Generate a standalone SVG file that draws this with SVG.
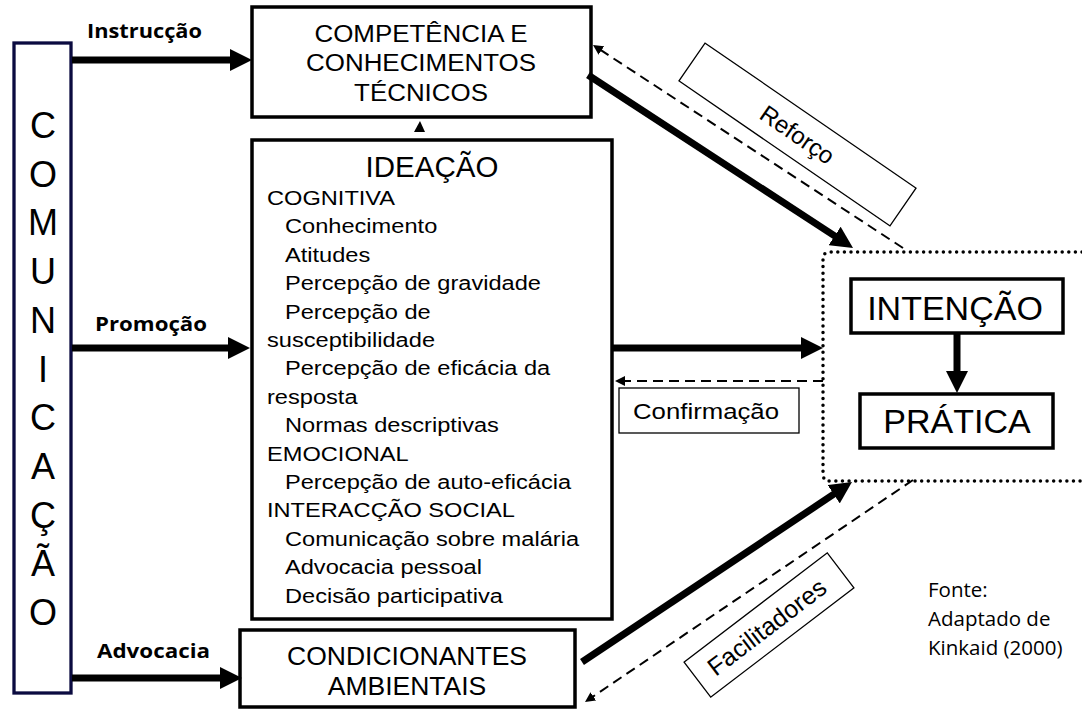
<svg xmlns="http://www.w3.org/2000/svg" width="1082" height="711" viewBox="0 0 1082 711">
  <style>
    .box { fill: #fff; stroke: #000; stroke-width: 3.5; }
    .lbl { fill: #fff; stroke: #000; stroke-width: 1.3; }
    .t { font-family: "Liberation Sans", Arial, sans-serif; fill: #000; }
    .b { font-family: "Open Sans", "Liberation Sans", sans-serif; font-weight: bold; font-size: 20px; fill: #000; }
    .f { font-family: "Open Sans", "Liberation Sans", sans-serif; font-size: 20.5px; fill: #000; }
    .thick { stroke: #000; stroke-width: 7; fill: none; }
    .dash { stroke: #000; stroke-width: 2; fill: none; stroke-dasharray: 10 6; }
    .dots { stroke: #000; stroke-width: 3.5; fill: none; stroke-dasharray: 0 6.6; stroke-linecap: round; }
  </style>
  <defs>
    <marker id="ah" markerUnits="userSpaceOnUse" viewBox="0 0 22 22" refX="10" refY="11" markerWidth="22" markerHeight="22" orient="auto">
      <path d="M0,0 L22,11 L0,22 z" fill="#000"/>
    </marker>
    <marker id="ahs" markerUnits="userSpaceOnUse" viewBox="0 0 10 10" refX="4" refY="5" markerWidth="10" markerHeight="10" orient="auto">
      <path d="M0,0 L10,5 L0,10 z" fill="#000"/>
    </marker>
  </defs>
  <rect width="1082" height="711" fill="#fff"/>

  <g id="comunicacao">
    <rect x="14" y="43" width="57" height="650" fill="#fff" stroke="#0b0b40" stroke-width="3.3"/>
    <g class="t" font-size="36" text-anchor="middle">
      <text x="43" y="138">C</text>
      <text x="43" y="186.7">O</text>
      <text x="43" y="235.4">M</text>
      <text x="43" y="284.1">U</text>
      <text x="43" y="332.8">N</text>
      <text x="43" y="381.5">I</text>
      <text x="43" y="430.2">C</text>
      <text x="43" y="478.9">A</text>
      <text x="43" y="527.6">Ç</text>
      <text x="43" y="576.3">Ã</text>
      <text x="43" y="625">O</text>
    </g>
  </g>

  <g id="competencia">
    <rect class="box" x="252" y="7" width="339" height="110"/>
    <g class="t" font-size="24" text-anchor="middle">
      <text transform="translate(421,42) scale(1.08,1)">COMPETÊNCIA E</text>
      <text transform="translate(421,71) scale(1.08,1)">CONHECIMENTOS</text>
      <text transform="translate(421,101) scale(1.08,1)">TÉCNICOS</text>
    </g>
  </g>

  <g id="ideacao">
    <rect class="box" x="252" y="140" width="360" height="479"/>
    <text class="t" x="432" y="177" font-size="29.5" text-anchor="middle">IDEAÇÃO</text>
    <g class="t" font-size="21" transform="matrix(1.125 0 0 1 -33.4 0)">
      <text x="267" y="205">COGNITIVA</text>
      <text x="283" y="233.4">Conhecimento</text>
      <text x="283" y="261.8">Atitudes</text>
      <text x="283" y="290.2">Percepção de gravidade</text>
      <text x="283" y="318.6">Percepção de</text>
      <text x="267" y="347">susceptibilidade</text>
      <text x="283" y="375.4">Percepção de eficácia da</text>
      <text x="267" y="403.8">resposta</text>
      <text x="283" y="432.2">Normas descriptivas</text>
      <text x="267" y="460.6">EMOCIONAL</text>
      <text x="283" y="489">Percepção de auto-eficácia</text>
      <text x="267" y="517.4">INTERACÇÃO SOCIAL</text>
      <text x="283" y="545.8">Comunicação sobre malária</text>
      <text x="283" y="574.2">Advocacia pessoal</text>
      <text x="283" y="602.6">Decisão participativa</text>
    </g>
  </g>

  <g id="condicionantes">
    <rect class="box" x="240" y="630" width="335" height="77"/>
    <g class="t" font-size="26.5" text-anchor="middle">
      <text x="407" y="665">CONDICIONANTES</text>
      <text x="407" y="695">AMBIENTAIS</text>
    </g>
  </g>

  <g id="comportamento">
    <path class="dots" d="M1082,252 H830 Q823,252 823,259 V474 Q823,481 830,481 H1082"/>
  </g>

  <g id="intencao">
    <rect class="box" x="851" y="279" width="212" height="54" stroke-width="4"/>
    <text class="t" x="955" y="320" font-size="34" text-anchor="middle">INTENÇÃO</text>
  </g>

  <g id="pratica">
    <rect class="box" x="860" y="394" width="193" height="54" stroke-width="4"/>
    <text class="t" x="957" y="433" font-size="34" text-anchor="middle">PRÁTICA</text>
  </g>

  <g id="connectors">
    <line class="thick" x1="72" y1="60" x2="240" y2="60" marker-end="url(#ah)"/>
    <line class="thick" x1="72" y1="348" x2="238" y2="348" marker-end="url(#ah)"/>
    <line class="thick" x1="72" y1="678" x2="230" y2="678" marker-end="url(#ah)"/>
    <line class="thick" x1="612" y1="348" x2="811" y2="348" marker-end="url(#ah)"/>
    <line class="thick" x1="588" y1="75" x2="843" y2="241.4" marker-end="url(#ah)"/>
    <line class="thick" x1="582" y1="662" x2="842" y2="488.7" marker-end="url(#ah)"/>
    <line class="thick" x1="957" y1="333" x2="957" y2="381" marker-end="url(#ah)"/>
    <line class="dash" x1="903" y1="248" x2="598" y2="48.3" marker-end="url(#ahs)"/>
    <line class="dash" x1="823" y1="381" x2="621" y2="381" marker-end="url(#ahs)"/>
    <line class="dash" x1="913" y1="480" x2="590" y2="698.6" marker-end="url(#ahs)"/>
    <polygon points="420,121 414,132 425,132" fill="#000"/>
  </g>

  <g id="labels">
    <text class="b" x="87" y="38" textLength="115" lengthAdjust="spacingAndGlyphs">Instrucção</text>
    <text class="b" x="95" y="331" textLength="112" lengthAdjust="spacingAndGlyphs">Promoção</text>
    <text class="b" x="97" y="658" textLength="113" lengthAdjust="spacingAndGlyphs">Advocacia</text>
    <g transform="translate(797.5,134.5) rotate(34.5)">
      <rect class="lbl" x="-128" y="-23" width="256" height="46"/>
      <text class="t" x="0" y="8.5" font-size="24" text-anchor="middle">Reforço</text>
    </g>
    <g>
      <rect class="lbl" x="619" y="388" width="180" height="45"/>
      <text class="t" transform="translate(706,419) scale(1.12,1)" font-size="23" text-anchor="middle">Confirmação</text>
    </g>
    <g transform="translate(769,625) rotate(-37.3)">
      <rect class="lbl" x="-90" y="-22" width="180" height="44"/>
      <text class="t" x="-3" y="9" font-size="25" text-anchor="middle">Facilitadores</text>
    </g>
    <text class="f" x="928" y="597">Fonte:</text>
    <text class="f" x="928" y="626">Adaptado de</text>
    <text class="f" x="928" y="655">Kinkaid (2000)</text>
  </g>
</svg>
